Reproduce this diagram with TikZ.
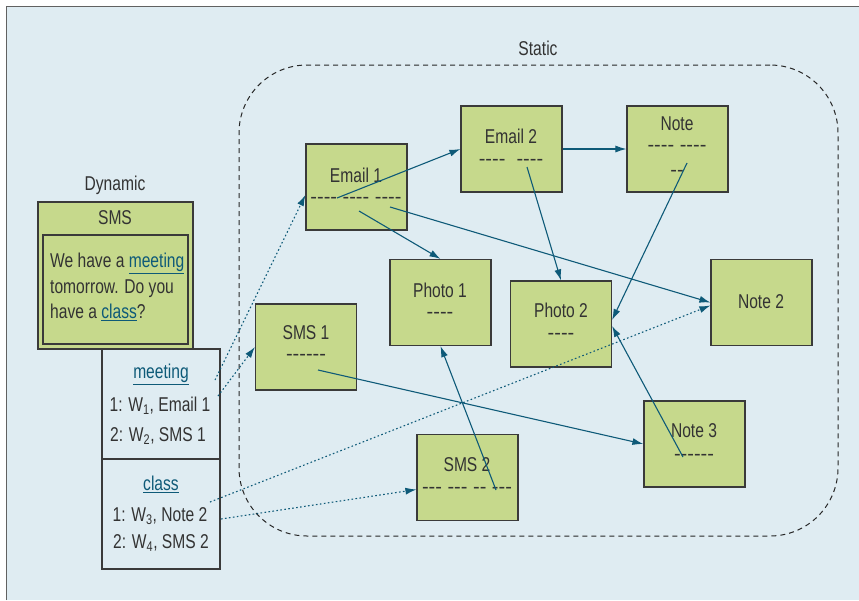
\documentclass[tikz,border=0pt]{standalone}
\usepackage{fontspec}
\setmainfont{Liberation Sans}[FakeStretch=0.78,Ligatures=TeXOff]
\newfontfamily\dashfont{Liberation Sans}[Ligatures=TeXOff]
\usetikzlibrary{arrows.meta}
\definecolor{bgblue}{HTML}{DFECF2}
\definecolor{itemgreen}{HTML}{C6D98C}
\definecolor{linkteal}{HTML}{0E5A78}
\definecolor{framegray}{HTML}{3A3A3A}
\newcommand{\keyword}[1]{\textcolor{linkteal}{\underline{#1}}}

\begin{document}
\begin{tikzpicture}[x=1pt,y=-1pt,
    item/.style={draw=framegray,line width=1.2pt,fill=itemgreen,minimum width=101pt,minimum height=86pt,inner sep=0pt},
    txt/.style={font=\fontsize{20}{25.5}\selectfont,text=black!80,inner sep=0pt},
    dashline/.style={font=\dashfont\fontsize{20}{25.5}\selectfont,text=black!80,inner sep=0pt},
    link/.style={draw=linkteal,line width=1.1pt,-{Latex[length=11pt,width=7pt]}},
    hint/.style={link,dash pattern=on 1.6pt off 2.4pt}]
                \useasboundingbox (0,0) rectangle (859,600);
                \fill[bgblue] (6,6) rectangle (859,600);
                \draw[framegray!80,line width=0.8pt] (6,600) -- (6,6) -- (859,6);
                % static part
                \node[draw=black!85,dash pattern=on 5pt off 4pt,line width=1pt,rounded corners=68pt,minimum width=599pt,minimum height=471pt] (static) at (538.5,300.5) {};
                \node[txt] (statict) at (538,48) {Static};
                \node[item] (email1) at (356.5,187) {};
                \node[item] (email2) at (511.5,149) {};
                \node[item] (note1) at (677.5,149) {};
                \node[item] (photo1) at (440.5,302.5) {};
                \node[item] (photo2) at (561,324) {};
                \node[item] (note2) at (761.5,302.5) {};
                \node[item] (sms1) at (306,347) {};
                \node[item] (sms2) at (467.5,477.5) {};
                \node[item] (note3) at (694.5,444) {};
                \node[txt] (email1t) at (356,175) {Email 1};
                \node[dashline] (email1d) at (356,200) {---- ---- ----};
                \node[txt] (email2t) at (511,136) {Email 2};
                \node[dashline] (email2d) at (511,162) {----\ \ ----};
                \node[txt] (note1t) at (677,124) {Note};
                \node[dashline] (note1d) at (677,148) {---- ----};
                \node[dashline] (note1e) at (677,173) {--};
                \node[txt] (photo1t) at (440,290) {Photo 1};
                \node[dashline] (photo1d) at (440,315) {----};
                \node[txt] (photo2t) at (561,310) {Photo 2};
                \node[dashline] (photo2d) at (561,336) {----};
                \node[txt] (note2t) at (761,302) {Note 2};
                \node[txt] (sms1t) at (306,333) {SMS 1};
                \node[dashline] (sms1d) at (306,357) {------};
                \node[txt] (sms2t) at (467,465) {SMS 2};
                \node[dashline] (sms2d) at (467,490) {--- --- -- ---};
                \node[txt] (note3t) at (694,431) {Note 3};
                \node[dashline] (note3d) at (694,457) {------};
                % dynamic part
                \node[txt] (dynamict) at (115,185) {Dynamic};
                \node[item,minimum width=155pt,minimum height=147pt] (msg) at (115.5,275.5) {};
                \node[txt] (msgt) at (115,218) {SMS};
                \node[item,minimum width=145pt,minimum height=109pt] (msgin) at (115.5,289.5) {};
                \node[txt,align=left,anchor=north west] (msgtext) at (50,253) {We have a \keyword{meeting}\\tomorrow. Do you\\have a \keyword{class}?};
                \node[draw=framegray,line width=1.2pt,minimum width=118pt,minimum height=110pt,inner sep=0pt] (meetbox) at (161,404) {};
                \node[draw=framegray,line width=1.2pt,minimum width=118pt,minimum height=110pt,inner sep=0pt] (classbox) at (161,514) {};
                \node[txt] (meetw) at (161,374) {\keyword{meeting}};
                \node[txt] (meet1) at (160,406) {1: W\textsubscript{1}, Email 1};
                \node[txt] (meet2) at (158,436) {2: W\textsubscript{2}, SMS 1};
                \node[txt] (classw) at (161,484) {\keyword{class}};
                \node[txt] (class1) at (160,516) {1: W\textsubscript{3}, Note 2};
                \node[txt] (class2) at (161,543) {2: W\textsubscript{4}, SMS 2};
                % links
                \coordinate (e1a) at (337,198);
                \coordinate (e1b) at (359,211);
                \coordinate (e1c) at (390,207);
                \coordinate (e2a) at (527,167);
                \coordinate (n1a) at (687,163);
                \coordinate (n3a) at (683,457);
                \coordinate (s2a) at (496,490);
                \coordinate (s1a) at (318,370);
                \coordinate (m1) at (215,380);
                \coordinate (m2) at (218,396);
                \coordinate (c1) at (210,502);
                \coordinate (c2) at (221,519);
                \draw[link] (e1a) to (email2.west);
                \draw[link] (e1b) to (photo1.north);
                \draw[link] (e1c) to (note2.west);
                \draw[link] (email2.east) to (note1.west);
                \draw[link] (e2a) to (photo2.north);
                \draw[link] (n1a) to ([yshift=4pt]photo2.east);
                \draw[link] (n3a) to ([yshift=-2pt]photo2.east);
                \draw[link] (s2a) to (photo1.south);
                \draw[link] (s1a) to (note3.west);
                \draw[hint] (m1) to ([yshift=-8pt]email1.west);
                \draw[hint] (m2) to (sms1.west);
                \draw[hint] (c1) to ([yshift=-3pt]note2.west);
                \draw[hint] (c2) to ([yshift=-12pt]sms2.west);
            \end{tikzpicture}
\end{document}
